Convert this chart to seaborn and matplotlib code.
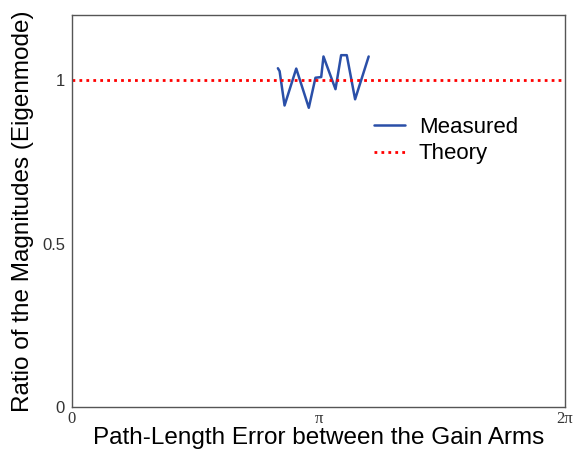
import numpy as np
import pandas as pd
import matplotlib
matplotlib.use("Agg")
import matplotlib.pyplot as plt
import seaborn as sns

# Data
phase = [2.624, 2.646, 2.709, 2.858, 3.018, 3.103, 3.176, 3.205, 3.358, 3.430, 3.502, 3.608, 3.781]
ratio = [1.037, 1.028, 0.923, 1.036, 0.916, 1.008, 1.010, 1.073, 0.973, 1.077, 1.077, 0.942, 1.073]
theory_x = [0.0, 2 * np.pi]
theory_y = [1.0, 1.0]
xtick_vals = [0, np.pi, 2 * np.pi]
xtick_labels = ["0", "π", "2π"]
ytick_vals = [0, 0.5, 1]
ytick_labels = ["0", "0.5", "1"]

sns.set_style("white")
plt.rcParams['font.family'] = ['Liberation Sans', 'DejaVu Sans']
plt.rcParams['text.color'] = 'black'
plt.rcParams['axes.labelcolor'] = 'black'

fig = plt.figure(figsize=(5.76, 4.61), dpi=100)
ax = fig.add_axes([72 / 576, 1 - 407 / 461, (565 - 72) / 576, (407 - 15) / 461])

df_m = pd.DataFrame({"x": phase, "y": ratio})
df_t = pd.DataFrame({"x": theory_x, "y": theory_y})
sns.lineplot(data=df_m, x="x", y="y", ax=ax, color="#2a4fa8", lw=1.8,
             label="Measured", sort=False, estimator=None)
sns.lineplot(data=df_t, x="x", y="y", ax=ax, color="#ff0000", lw=2.0,
             linestyle=(0, (1, 1.5)), label="Theory", estimator=None)

ax.set_xlim(0, 2 * np.pi)
ax.set_ylim(0, 1.2)
ax.set_xticks(xtick_vals)
ax.set_xticklabels(xtick_labels, family=['Liberation Serif', 'DejaVu Serif'], fontsize=12)
ax.set_yticks(ytick_vals)
ax.set_yticklabels(ytick_labels, fontsize=12)
ax.tick_params(direction="in", length=5, width=0.8, color="#555555",
               labelcolor="#333333", pad=5)
ax.tick_params(axis="x", pad=3)
for s in ax.spines.values():
    s.set_color("#555555")
    s.set_linewidth(1.0)

ax.set_xlabel("Path-Length Error between the Gain Arms", fontsize=17.5, labelpad=0)
ax.set_ylabel("Ratio of the Magnitudes (Eigenmode)", fontsize=17.5, labelpad=6)

leg = ax.legend(loc="upper left", bbox_to_anchor=(0.613, 0.74), frameon=False,
                fontsize=16, handlelength=1.4, handletextpad=0.6,
                labelspacing=0.25, borderaxespad=0, borderpad=0)

fig.savefig("out.png", dpi=100)
